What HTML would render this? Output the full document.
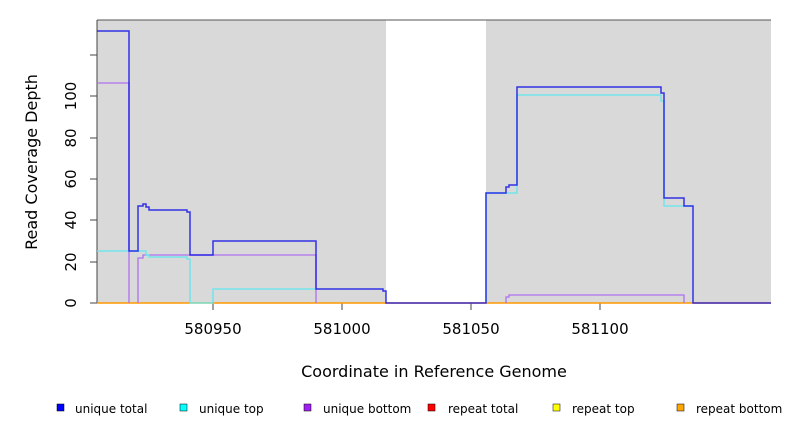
<!DOCTYPE html>
<html><head><meta charset="utf-8"><style>body{margin:0;background:#fff}svg{display:block;font-family:"DejaVu Sans","Liberation Sans",sans-serif}</style></head><body>
<svg width="792" height="432" viewBox="0 0 792 432">
<rect x="97" y="20" width="289" height="283" fill="#d9d9d9"/>
<rect x="486" y="20" width="285" height="283" fill="#d9d9d9"/>
<line x1="97" y1="20" x2="771" y2="20" stroke="#555" stroke-width="1"/>
<line x1="97" y1="20" x2="97" y2="303" stroke="#444" stroke-width="1"/>
<g stroke="#444" stroke-width="1">
<line x1="90" y1="303" x2="97" y2="303"/><line x1="90" y1="262" x2="97" y2="262"/><line x1="90" y1="220" x2="97" y2="220"/><line x1="90" y1="179" x2="97" y2="179"/><line x1="90" y1="138" x2="97" y2="138"/><line x1="90" y1="96" x2="97" y2="96"/><line x1="90" y1="55" x2="97" y2="55"/>
<line x1="213" y1="303" x2="213" y2="310"/><line x1="342" y1="303" x2="342" y2="310"/><line x1="471" y1="303" x2="471" y2="310"/><line x1="600" y1="303" x2="600" y2="310"/>
</g>
<g font-size="15" fill="#000" text-anchor="middle">
<text transform="translate(76,303) rotate(-90)">0</text>
<text transform="translate(76,262) rotate(-90)">20</text>
<text transform="translate(76,220) rotate(-90)">40</text>
<text transform="translate(76,179) rotate(-90)">60</text>
<text transform="translate(76,138) rotate(-90)">80</text>
<text transform="translate(76,96) rotate(-90)">100</text>
<text x="213" y="334">580950</text><text x="342" y="334">581000</text><text x="471" y="334">581050</text><text x="600" y="334">581100</text>
<text x="434" y="377" font-size="16">Coordinate in Reference Genome</text>
<text transform="translate(37,162) rotate(-90)" font-size="16">Read Coverage Depth</text>
</g>
<line x1="97" y1="303" x2="771" y2="303" stroke="#f90" stroke-width="1.5"/>
<path d="M97,83H129V303M138,303V258H143V255H316V303M506,303V297H509V295H684V303" fill="none" stroke="#b070f0" stroke-width="1.3"/>
<path d="M97,251H146V255H149V257H187V259H190V303H213V289H316M486,303V193H517V95H661V101H664V206H693" fill="none" stroke="#60e8f0" stroke-width="1.3"/>
<path d="M97,31H129V251H138V206H143V204H146V207H149V210H187V212H190V255H213V241H316V289H383V291H386V303H486V193H506V187H509V185H517V87H661V93H664V198H684V206H693V303H771" fill="none" stroke="#1515e8" stroke-width="1.5" stroke-opacity="0.85"/>
<g font-size="12" fill="#000">
<rect x="57" y="404" width="7" height="7" fill="#00f" stroke="#000" stroke-width=".5"/><text x="75" y="413">unique total</text>
<rect x="180" y="404" width="7" height="7" fill="#0ff" stroke="#000" stroke-width=".5"/><text x="199" y="413">unique top</text>
<rect x="304" y="404" width="7" height="7" fill="#a020f0" stroke="#000" stroke-width=".5"/><text x="323" y="413">unique bottom</text>
<rect x="428" y="404" width="7" height="7" fill="#f00" stroke="#000" stroke-width=".5"/><text x="448" y="413">repeat total</text>
<rect x="553" y="404" width="7" height="7" fill="#ff0" stroke="#000" stroke-width=".5"/><text x="572" y="413">repeat top</text>
<rect x="677" y="404" width="7" height="7" fill="#ffa500" stroke="#000" stroke-width=".5"/><text x="696" y="413">repeat bottom</text>
</g>
</svg>
</body></html>
